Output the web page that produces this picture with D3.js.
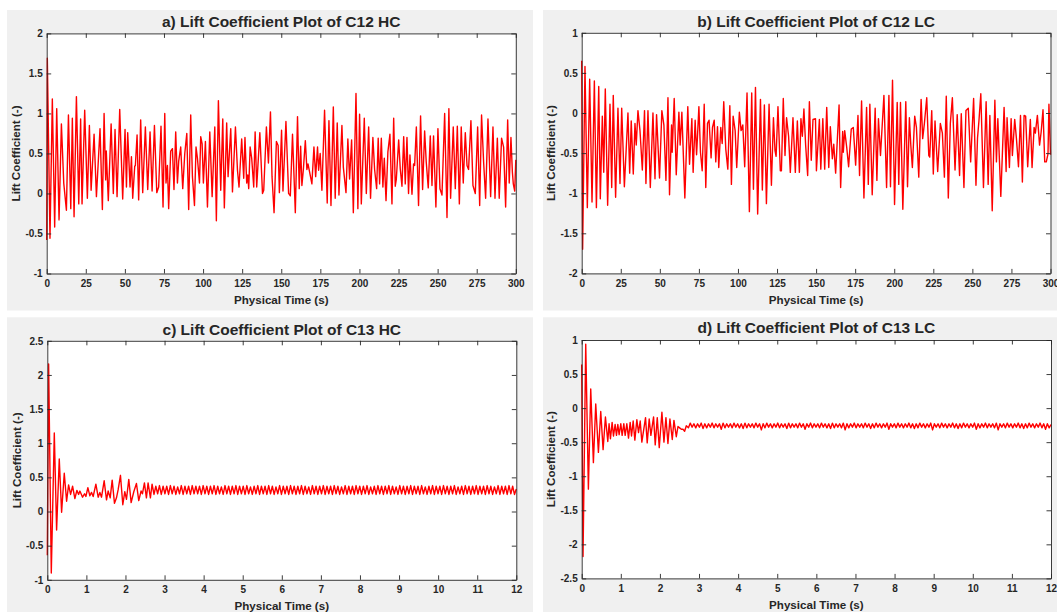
<!DOCTYPE html>
<html><head><meta charset="utf-8">
<script src="https://cdn.jsdelivr.net/npm/d3@7/dist/d3.min.js"></script>
<style>
html,body{margin:0;padding:0;background:#fff;}
svg{display:block;}
text{font-family:"Liberation Sans",Arial,Helvetica,sans-serif;font-weight:bold;fill:#262626;}
</style></head>
<body>
<svg id="chart" width="1057" height="612"></svg>
<script>
// ---------- DATA ----------
const titles = ["a) Lift Coefficient Plot of C12 HC","b) Lift Coefficient Plot of C12 LC","c) Lift Coefficient Plot of C13 HC","d) Lift Coefficient Plot of C13 LC"];
const xLabel = "Physical Time (s)";
const yLabel = "Lift Coefficient (-)";

const xTicksLong = [0,25,50,75,100,125,150,175,200,225,250,275,300];
const xTicksShort = [0,1,2,3,4,5,6,7,8,9,10,11,12];
const yTicksA = [-1,-0.5,0,0.5,1,1.5,2];
const yTicksB = [-2,-1.5,-1,-0.5,0,0.5,1];
const yTicksC = [-1,-0.5,0,0.5,1,1.5,2,2.5];
const yTicksD = [-2.5,-2,-1.5,-1,-0.5,0,0.5,1];

// Panel a: C12 HC (time s, lift coefficient)
const aTime = [0.0,0.4,2.1,3.6,5.1,6.4,7.9,9.4,10.9,12.6,13.9,15.4,16.4,17.5,19.0,20.5,21.7,22.6,24.3,26.0,27.3,28.4,30.3,31.8,34.1,35.6,36.7,37.7,38.1,39.4,41.2,42.6,43.7,45.0,46.7,48.6,50.1,51.0,51.8,53.3,54.2,55.0,56.3,56.7,57.8,58.8,60.1,61.4,63.1,64.6,66.1,67.4,68.9,70.4,71.6,73.1,74.4,75.5,76.3,77.2,78.0,79.3,80.4,81.4,82.5,83.6,84.4,85.7,87.0,88.3,89.6,90.8,92.1,93.2,94.5,95.5,96.4,97.7,98.5,99.4,100.2,101.5,102.8,104.3,105.8,107.5,108.5,109.8,111.3,112.6,113.6,115.1,116.0,117.7,118.8,120.7,122.0,123.0,124.7,126.0,126.8,127.9,128.6,129.2,130.1,131.1,132.4,133.3,134.3,136.3,138.0,138.8,140.5,141.8,143.1,144.1,145.4,146.9,148.0,148.8,150.2,
151.1,153.0,154.7,155.8,157.2,159.0,160.4,161.5,162.4,163.2,164.1,165.4,166.4,167.1,168.3,169.6,170.9,172.0,173.2,173.9,174.9,176.0,177.7,179.4,180.5,181.8,183.3,184.5,185.8,186.9,188.8,189.7,191.4,192.6,193.7,195.0,196.1,197.8,199.0,200.1,201.2,203.1,204.4,205.9,207.1,208.6,209.7,211.0,212.0,212.9,214.0,215.0,215.9,217.0,218.2,219.5,220.8,221.9,222.9,223.6,225.1,226.1,227.2,228.3,229.3,230.4,231.4,232.3,233.6,234.6,235.3,236.4,237.8,239.1,240.4,241.7,242.7,244.0,245.3,246.4,247.4,248.9,250.2,251.5,252.8,254.5,256.0,257.2,258.3,260.0,261.3,262.6,263.9,265.1,266.4,267.7,268.8,269.8,271.3,272.6,274.1,275.6,276.9,278.1,279.4,280.7,282.2,283.9,285.4,286.7,288.2,289.4,290.9,292.2,293.5,294.8,295.8,296.9,297.8,298.4,299.3,300.0];
const aValue = [-0.58,1.69,-0.56,1.18,-0.42,1.06,-0.33,0.87,0.13,-0.21,0.98,-0.19,0.94,-0.29,1.21,-0.13,0.93,-0.13,1.04,-0.06,0.85,0.04,0.74,-0.04,0.81,-0.20,1.00,0.17,0.53,-0.09,0.87,0.00,0.80,-0.04,1.05,-0.07,0.80,0.08,0.76,0.08,0.46,-0.06,0.34,0.35,0.73,-0.08,0.92,0.01,0.83,0.05,0.77,0.03,0.85,0.01,0.08,0.84,-0.17,1.00,0.13,0.35,-0.19,0.53,0.56,0.05,0.77,0.13,0.40,0.58,0.06,0.50,0.75,-0.20,0.98,0.21,-0.15,0.58,0.44,0.13,0.71,0.62,0.13,0.65,-0.17,0.77,-0.04,0.83,-0.34,1.16,0.04,0.93,-0.18,0.88,0.21,0.81,0.02,0.83,0.29,0.08,0.68,0.19,0.70,0.13,0.23,0.06,0.58,0.44,0.08,0.77,0.08,0.76,0.00,0.04,0.83,0.38,1.02,0.21,-0.24,0.65,0.60,0.01,0.79,
0.03,0.90,0.00,-0.03,0.74,-0.24,0.96,0.06,0.59,0.10,0.29,0.66,0.30,0.37,0.25,0.12,0.58,0.21,0.58,0.29,0.50,0.04,1.04,-0.12,0.91,-0.15,1.08,-0.06,0.88,-0.02,0.85,0.33,0.01,0.68,0.18,0.67,-0.24,1.25,-0.19,0.99,-0.13,0.94,0.00,0.83,-0.06,0.70,0.30,0.06,0.69,0.12,0.69,0.08,0.44,-0.09,0.52,0.74,-0.13,0.94,0.09,0.18,0.67,0.31,0.09,0.71,0.12,0.70,0.00,0.48,-0.01,0.37,0.35,0.83,-0.15,0.97,0.05,0.78,0.40,0.07,0.72,0.10,0.72,-0.17,0.81,0.06,-0.02,1.00,-0.30,1.06,-0.06,0.83,0.06,0.84,-0.13,0.83,0.13,0.76,0.35,0.30,0.91,0.10,0.00,0.83,-0.15,0.98,0.40,-0.06,0.93,-0.04,0.83,-0.06,0.69,-0.06,0.69,0.58,-0.17,0.92,0.13,0.70,0.27,0.12,0.03,0.42];

// Panel b: C12 LC
const bTime = [0.0,0.6,2.1,3.6,5.1,6.6,8.1,9.4,10.9,11.9,13.2,14.1,15.1,16.6,18.1,19.2,20.2,21.7,23.2,24.5,25.6,27.3,29.6,30.7,31.7,33.0,34.1,34.9,36.0,37.3,38.8,40.2,41.1,42.4,43.9,45.6,46.9,47.9,49.8,51.3,52.6,53.9,55.2,56.2,57.5,57.9,59.2,60.5,62.2,63.0,64.1,66.0,67.9,69.0,70.5,71.3,72.6,73.5,74.1,75.0,76.0,77.1,78.4,79.4,80.5,81.5,82.8,83.7,84.8,85.8,86.9,87.7,89.0,89.9,90.9,92.2,93.5,94.8,95.8,96.9,98.2,99.2,100.9,102.0,103.1,104.3,105.8,107.3,108.8,109.9,111.2,112.6,114.4,115.6,116.9,118.2,119.9,121.4,122.7,123.7,124.4,125.6,127.1,127.8,129.0,130.1,131.1,132.4,133.5,135.2,136.7,138.0,139.3,140.3,141.2,142.2,143.3,144.6,145.7,146.9,148.0,149.6,
150.2,152.1,153.0,154.3,155.5,156.8,158.1,159.1,160.4,161.3,162.5,164.7,165.7,167.0,167.4,168.3,169.6,170.8,172.5,173.8,175.3,176.8,177.8,179.1,180.6,182.3,183.4,184.4,185.9,187.8,188.9,189.9,191.2,193.4,195.1,196.6,197.6,198.9,200.2,201.9,202.9,204.0,205.5,207.4,208.5,209.7,210.6,211.6,213.1,214.2,215.7,217.2,218.2,219.3,220.8,222.1,222.7,224.0,225.0,226.1,227.8,229.5,230.8,232.1,233.3,234.6,235.9,237.2,238.9,240.3,241.8,242.9,244.6,245.9,247.4,248.9,250.8,252.3,253.3,254.2,255.4,257.1,258.8,260.1,261.2,262.7,264.4,265.4,266.3,268.2,270.3,271.6,272.2,273.7,274.8,275.6,277.1,278.2,279.5,280.8,282.0,283.1,284.1,285.4,287.1,288.2,289.5,290.3,291.6,293.0,294.0,295.2,296.3,297.3,298.4,299.0,300.0];
const bValue = [0.65,-1.70,0.58,-1.18,0.42,-1.11,0.40,-1.18,0.33,-1.07,-0.04,-0.74,0.30,-1.15,0.11,-0.93,0.22,-1.05,0.06,-0.88,0.06,-0.92,0.00,-0.75,-0.10,-0.76,-0.13,-0.40,0.03,-0.22,-0.71,0.03,-0.88,0.03,-0.93,0.00,-0.82,-0.02,-0.81,0.03,-0.15,-0.84,0.19,-1.02,-0.15,-0.49,0.18,-0.77,0.01,-0.40,0.01,-1.06,0.08,-0.64,-0.07,-0.74,-0.09,-0.52,-0.29,0.08,-0.49,-0.72,0.11,-0.93,-0.13,-0.09,-0.56,-0.18,-0.09,-0.61,-0.17,-0.68,-0.18,-0.38,0.14,-0.45,-0.70,0.09,-0.89,-0.04,-0.22,-0.68,0.01,-0.22,-0.15,-0.67,0.25,-1.23,0.25,-0.95,0.32,-1.26,0.17,-0.96,0.10,-1.13,0.11,-0.90,-0.06,-0.47,-0.54,0.08,-0.72,-0.72,0.18,-0.53,-0.06,-0.29,-0.74,-0.06,-0.74,-0.10,-0.74,-0.07,-0.29,0.05,-0.40,-0.78,0.14,-0.59,-0.08,-0.07,
-0.72,-0.08,-0.70,-0.07,-0.70,0.07,-0.68,-0.17,-0.57,-0.39,-0.75,0.10,-0.93,-0.23,-0.49,-0.22,-0.43,-0.67,-0.20,-0.18,-0.65,-0.03,-0.78,0.15,-1.06,0.07,-0.89,0.11,-1.02,0.06,-0.84,-0.07,-0.53,0.22,-0.93,0.22,-0.92,0.41,-1.14,0.13,-0.89,0.13,-1.20,0.14,-0.92,-0.06,-0.40,-0.68,-0.04,-0.18,-0.80,0.17,-0.32,-0.13,0.19,-0.53,-0.55,0.03,-0.76,-0.10,-0.73,-0.13,-0.25,-0.80,0.21,-1.06,-0.13,0.19,-0.71,-0.02,-0.78,-0.01,-0.93,0.03,0.06,-0.61,0.18,-0.90,-0.31,-0.10,0.24,-0.93,0.14,-0.89,-0.03,-1.22,0.16,-0.61,-0.07,-1.04,0.07,-0.73,-0.06,-0.68,-0.07,-0.53,-0.08,-0.32,-0.67,-0.03,-0.86,-0.03,-0.04,-0.67,-0.08,-0.68,-0.18,-0.25,-0.03,-0.40,-0.24,0.04,-0.61,-0.61,-0.51,0.11,-0.52];

// Panel c: C13 HC, start-up transient then steady oscillation
const cTime = [0,0.034,0.102,0.179,0.238,0.306,0.366,0.434,0.494,0.545,0.596,0.647,0.706,0.757,0.80,0.834,0.902,0.953,0.987,1.038,1.089,1.132,1.174,1.243,1.302,1.345,1.387,1.455,1.515,1.557,1.609,1.66,1.719,1.77,1.813,1.872,1.932,1.983,2.026,2.085,2.145,2.213,2.281,2.34,2.40,2.434,2.485,2.536,2.579,2.638,2.681];
const cValue = [-0.64,2.16,-0.90,1.15,-0.27,0.77,-0.01,0.56,0.15,0.39,0.25,0.37,0.19,0.31,0.25,0.30,0.21,0.26,0.22,0.35,0.23,0.28,0.22,0.40,0.21,0.28,0.21,0.45,0.17,0.30,0.20,0.46,0.12,0.20,0.32,0.53,0.10,0.29,0.18,0.47,0.13,0.29,0.41,0.16,0.30,0.26,0.42,0.20,0.42,0.20,0.40];
const cSteadySpan = [2.73, 12.0];
const cSteady = [
0.25,0.37,0.26,0.38,0.25,0.37,0.26,0.37,0.25,0.38,0.26,0.37,0.25,0.36,0.26,0.38,0.25,0.37,0.26,0.37,
0.25,0.38,0.26,0.37,0.26,0.37,0.25,0.38,0.26,0.37,0.25,0.37,0.26,0.38,0.25,0.37,0.26,0.36,0.25,0.38,
0.26,0.37,0.25,0.37,0.26,0.38,0.25,0.37,0.26,0.37,0.25,0.38,0.26,0.36,0.25,0.37,0.26,0.38,0.25,0.37,
0.26,0.37,0.25,0.38,0.26,0.37,0.25,0.36,0.26,0.38,0.25,0.37,0.26,0.37,0.25,0.38,0.26,0.37,0.25,0.37,
0.26,0.38,0.25,0.37,0.26,0.36,0.25,0.38,0.26,0.37,0.25,0.37,0.26,0.38,0.25,0.37,0.26,0.37,0.25,0.38,
0.26,0.37,0.25,0.36,0.26,0.38,0.25,0.37,0.26,0.37,0.25,0.38,0.26,0.37,0.25,0.37,0.26,0.38,0.25,0.36,
0.26,0.37,0.25,0.38,0.26,0.37,0.25,0.37,0.26,0.38,0.25,0.37,0.26,0.36,0.25,0.38,0.26,0.37,0.25,0.37,
0.26,0.38,0.25,0.37,0.26,0.37,0.25,0.38,0.26,0.36,0.25,0.37,0.26,0.38,0.25,0.37,0.26,0.37,0.25,0.38,
0.26,0.37,0.25,0.37,0.26,0.38,0.25,0.36,0.26,0.37,0.25,0.38,0.26,0.37,0.25,0.37,0.26,0.38,0.25,0.37,
0.26,0.37,0.25,0.38,0.26,0.37,0.25,0.36,0.26,0.38,0.25,0.37,0.26,0.37,0.25,0.38,0.26,0.37,0.25,0.33];

// Panel d: C13 LC
const dTime = [0,0.034,0.103,0.171,0.231,0.299,0.359,0.427,0.487,0.547,0.607,0.667,0.70,0.735,0.778,0.812,0.855,0.889,0.923,0.957,1.0,1.034,1.077,1.111,1.154,1.197,1.239,1.274,1.316,1.359,1.41,1.453,1.496,1.538,1.632,1.675,1.726,1.769,1.838,1.88,1.932,1.983,2.051,2.103,2.154,2.205,2.256,2.316,2.359,2.419,2.462,2.504,2.547,2.59,2.632,2.675];
const dValue = [0.64,-2.18,0.94,-1.19,0.28,-0.80,0.06,-0.65,-0.05,-0.61,-0.13,-0.49,-0.23,-0.45,-0.21,-0.41,-0.24,-0.40,-0.24,-0.39,-0.23,-0.40,-0.23,-0.40,-0.23,-0.44,-0.21,-0.41,-0.19,-0.47,-0.17,-0.36,-0.19,-0.50,-0.14,-0.51,-0.16,-0.40,-0.13,-0.54,-0.14,-0.58,-0.06,-0.50,-0.14,-0.52,-0.16,-0.46,-0.18,-0.42,-0.27,-0.29,-0.31,-0.31,-0.34,-0.26];
const dSteadySpan = [2.73, 12.0];
const dSteady = [
-0.29,-0.22,-0.28,-0.23,-0.29,-0.23,-0.28,-0.22,-0.30,-0.23,-0.29,-0.23,-0.28,-0.22,-0.29,-0.23,-0.28,-0.23,-0.31,-0.22,
-0.29,-0.23,-0.28,-0.23,-0.29,-0.22,-0.28,-0.23,-0.29,-0.23,-0.30,-0.22,-0.29,-0.23,-0.28,-0.23,-0.29,-0.22,-0.28,-0.23,
-0.32,-0.23,-0.29,-0.22,-0.28,-0.23,-0.29,-0.23,-0.28,-0.22,-0.29,-0.23,-0.28,-0.23,-0.30,-0.22,-0.29,-0.23,-0.28,-0.23,
-0.29,-0.22,-0.28,-0.23,-0.31,-0.23,-0.28,-0.22,-0.29,-0.23,-0.28,-0.23,-0.29,-0.22,-0.28,-0.23,-0.29,-0.23,-0.30,-0.22,
-0.29,-0.23,-0.28,-0.23,-0.29,-0.22,-0.32,-0.23,-0.29,-0.23,-0.28,-0.22,-0.29,-0.23,-0.28,-0.23,-0.29,-0.22,-0.28,-0.23,
-0.30,-0.23,-0.29,-0.22,-0.28,-0.23,-0.29,-0.23,-0.28,-0.22,-0.31,-0.23,-0.28,-0.23,-0.29,-0.22,-0.28,-0.23,-0.29,-0.23,
-0.28,-0.22,-0.29,-0.23,-0.30,-0.23,-0.29,-0.22,-0.28,-0.23,-0.29,-0.23,-0.28,-0.22,-0.32,-0.23,-0.28,-0.23,-0.29,-0.22,
-0.28,-0.23,-0.29,-0.23,-0.28,-0.22,-0.29,-0.23,-0.30,-0.23,-0.29,-0.22,-0.28,-0.23,-0.29,-0.23,-0.28,-0.22,-0.31,-0.23,
-0.29,-0.23,-0.28,-0.22,-0.29,-0.23,-0.28,-0.23,-0.29,-0.22,-0.32,-0.23,-0.28,-0.23,-0.29,-0.22,-0.28,-0.23,-0.29,-0.23,
-0.28,-0.22,-0.29,-0.23,-0.30,-0.23,-0.29,-0.22,-0.28,-0.23,-0.29,-0.23,-0.28,-0.22,-0.29,-0.23,-0.31,-0.23,-0.29,-0.24];

// ---------- BUILD ----------
function pairs(t, v){ return t.map((x,i)=>({t:x, v:v[i]})); }
function withSteady(t, v, span, sv){
  const pts = pairs(t, v);
  const n = sv.length;
  sv.forEach((val,i)=>{ pts.push({t: span[0] + (span[1]-span[0]) * i/(n-1), v: val}); });
  return pts;
}

const panels = [
  {title:titles[0], bg:[7,10,526,300.5], plot:[46.7,33.4,515.8,273.5], xd:[0,300], xt:xTicksLong, yd:[-1,2], yt:yTicksA, data:pairs(aTime,aValue), titleY:27.3},
  {title:titles[1], bg:[543,10,514,300.5], plot:[581.7,32.8,1050.5,273.4], xd:[0,300], xt:xTicksLong, yd:[-2,1], yt:yTicksB, data:pairs(bTime,bValue), titleY:26.8},
  {title:titles[2], bg:[7,317.3,526,294.7], plot:[47.3,340.8,516.3,579.8], xd:[0,12], xt:xTicksShort, yd:[-1,2.5], yt:yTicksC, data:withSteady(cTime,cValue,cSteadySpan,cSteady), titleY:335},
  {title:titles[3], bg:[543,317.3,514,294.7], plot:[581.7,340,1051,578.4], xd:[0,12], xt:xTicksShort, yd:[-2.5,1], yt:yTicksD, data:withSteady(dTime,dValue,dSteadySpan,dSteady), titleY:333}
];

const svg = d3.select("#chart");
const fmt = d => String(d);
const axisColor = "#262626";

panels.forEach(p => {
  const [L,T,R,B] = p.plot;
  svg.append("rect").attr("x",p.bg[0]).attr("y",p.bg[1]).attr("width",p.bg[2]).attr("height",p.bg[3]).attr("fill","#f0f0f0");
  svg.append("rect").attr("x",L).attr("y",T).attr("width",R-L).attr("height",B-T).attr("fill","#fff");

  const x = d3.scaleLinear().domain(p.xd).range([L,R]);
  const y = d3.scaleLinear().domain(p.yd).range([B,T]);

  const g = svg.append("g");
  g.append("path").datum(p.data)
    .attr("fill","none").attr("stroke","#ff0000").attr("stroke-width",1.4).attr("stroke-linejoin","round")
    .attr("d", d3.line().x(d=>x(d.t)).y(d=>y(d.v)));

  const tl = 4.5;
  const ax = g.append("g").attr("transform",`translate(0,${B})`)
    .call(d3.axisBottom(x).tickValues(p.xt).tickFormat(fmt).tickSizeInner(-tl).tickSizeOuter(0).tickPadding(6.5));
  const axt = g.append("g").attr("transform",`translate(0,${T})`)
    .call(d3.axisTop(x).tickValues(p.xt).tickFormat("").tickSizeInner(-tl).tickSizeOuter(0));
  const ay = g.append("g").attr("transform",`translate(${L},0)`)
    .call(d3.axisLeft(y).tickValues(p.yt).tickFormat(fmt).tickSizeInner(-tl).tickSizeOuter(0).tickPadding(4));
  const ayr = g.append("g").attr("transform",`translate(${R},0)`)
    .call(d3.axisRight(y).tickValues(p.yt).tickFormat("").tickSizeInner(-tl).tickSizeOuter(0));
  [ax,axt,ay,ayr].forEach(a=>{
    a.select(".domain").attr("stroke",axisColor).attr("stroke-width",0.9);
    a.selectAll(".tick line").attr("stroke",axisColor).attr("stroke-width",0.9);
    a.selectAll("text").attr("font-size","10px").attr("font-family",null).attr("fill",axisColor).style("font-weight","bold");
  });
  ax.selectAll("text").attr("dy","0.71em");

  svg.append("text").attr("x",(L+R)/2).attr("y",p.titleY).attr("text-anchor","middle")
    .attr("font-size","15.5px").text(p.title);
  svg.append("text").attr("x",(L+R)/2).attr("y",B+30.3).attr("text-anchor","middle")
    .attr("font-size","11.6px").text(xLabel);
  svg.append("text").attr("transform",`translate(${L-26.5},${(T+B)/2}) rotate(-90)`)
    .attr("text-anchor","middle").attr("font-size","11.6px").text(yLabel);
});
</script>
</body></html>
